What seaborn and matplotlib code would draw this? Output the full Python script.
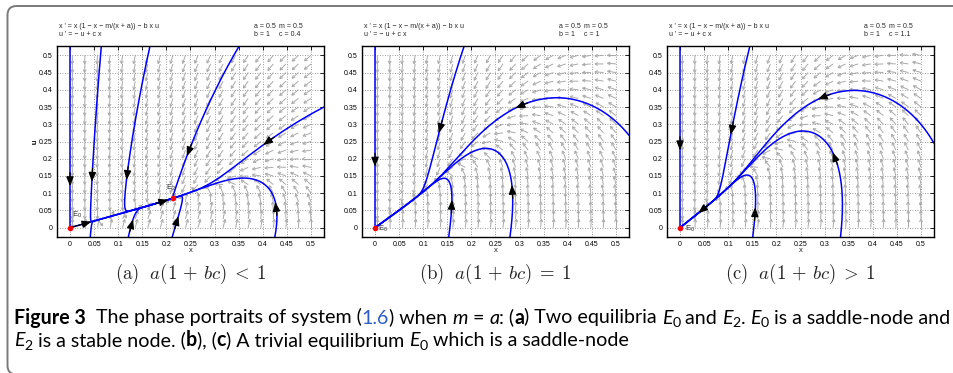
import math
import numpy as np
import pandas as pd
import matplotlib
matplotlib.use("Agg")
import matplotlib.pyplot as plt
import seaborn as sns
from matplotlib.collections import LineCollection
from matplotlib.patches import FancyBboxPatch
from matplotlib.transforms import IdentityTransform
from matplotlib.font_manager import FontProperties

# ---------------------------------------------------------------- model data
A_PAR = 0.5
M_PAR = 0.5
B_PAR = 1.0
C_VALUES = [0.4, 1.0, 1.1]

PANEL_TAGS = ["a", "b", "c"]
PANEL_RELATIONS = ["<", "=", ">"]

TICK_VALUES = [0.0, 0.05, 0.1, 0.15, 0.2, 0.25, 0.3, 0.35, 0.4, 0.45, 0.5]
TICK_LABELS = ["0", "0.05", "0.1", "0.15", "0.2", "0.25", "0.3", "0.35", "0.4", "0.45", "0.5"]

# initial points of the plotted orbits (x, u)
STARTS_A = [(0.0, 0.527), (0.065, 0.527), (0.042, -0.027), (0.166, 0.527), (0.121, -0.027),
            (0.212, -0.027), (0.351, 0.527), (0.527, 0.350), (0.425, -0.027), (0.0005, 0.0002)]
STARTS_B = [(0.0, 0.527), (0.185, 0.527), (0.527, 0.268), (0.280, -0.027), (0.153, -0.027)]
STARTS_C = [(0.0, 0.527), (0.145, 0.527), (0.527, 0.245), (0.333, -0.027), (0.151, -0.027)]

# equilibria and their labels (subscript, label x, label u)
EQUILIBRIA_A = [(0.0, 0.0), (0.2143, 0.0857)]
EQUILIBRIA_B = [(0.0, 0.0)]
EQUILIBRIA_C = [(0.0, 0.0)]
EQ_LABELS_A = [("0", 0.005, 0.022), ("2", 0.199, 0.101)]
EQ_LABELS_B = [("0", 0.007, -0.019)]
EQ_LABELS_C = [("0", 0.010, -0.018)]

# direction markers on orbits: (orbit index, tip x, tip u, shaft length in px)
ARROWS_A = [(0, 0.0, 0.120, 13), (1, 0.040, 0.133, 13), (3, 0.117, 0.138, 13),
            (4, 0.126, 0.027, 13), (5, 0.225, 0.034, 13), (8, 0.426, 0.075, 13),
            (6, 0.245, 0.206, 13), (7, 0.401, 0.240, 13), (9, 0.045, 0.016, 30),
            (9, 0.204, 0.080, 13)]
ARROWS_B = [(0, 0.0, 0.177, 13), (1, 0.133, 0.274, 13), (2, 0.290, 0.351, 13),
            (3, 0.281, 0.124, 13), (4, 0.160, 0.080, 13)]
ARROWS_C = [(0, 0.0, 0.225, 13), (1, 0.107, 0.269, 13), (2, 0.286, 0.373, 13),
            (3, 0.317, 0.220, 13), (4, 0.156, 0.059, 13), (2, 0.038, 0.042, 13)]

STARTS = [STARTS_A, STARTS_B, STARTS_C]
EQUILIBRIA = [EQUILIBRIA_A, EQUILIBRIA_B, EQUILIBRIA_C]
EQ_LABELS = [EQ_LABELS_A, EQ_LABELS_B, EQ_LABELS_C]
ARROWS = [ARROWS_A, ARROWS_B, ARROWS_C]

# ---------------------------------------------------------------- layout
W, H = 954, 373
LO, HI = -0.027, 0.527
AX_LEFT = [57, 362, 667]
AX_TOP, AX_W, AX_H = 46, 267, 191
SX = AX_W / (HI - LO)      # px per unit of x
SU = AX_H / (HI - LO)      # px per unit of u

sns.set_style("white")
plt.rcParams["font.family"] = ["Liberation Sans", "DejaVu Sans"]
plt.rcParams["mathtext.fontset"] = "custom"
plt.rcParams["mathtext.rm"] = "Liberation Sans"
plt.rcParams["mathtext.it"] = "Liberation Sans:italic"
plt.rcParams["mathtext.bf"] = "Liberation Sans:bold"


def field(x, u, c):
    fx = x * (1.0 - x - M_PAR / (x + A_PAR)) - B_PAR * x * u
    fu = -u + c * x
    return fx, fu


def trace(p0, c, eqs, max_px=0.5, nmax=40000, dt_cap=1000.0):
    """Integrate forward; u' = -u + c x is advanced exactly for frozen x."""
    x, u = p0
    pts = [(x, u)]
    armed = [False] * len(eqs)
    for _ in range(nmax):
        fx, fu = field(x, u, c)
        sp = math.hypot(fx * SX, fu * SU)
        dt = dt_cap if sp == 0.0 else min(max_px / sp, dt_cap)
        xh = x + 0.5 * dt * fx
        uh = c * x + (u - c * x) * math.exp(-0.5 * dt)
        fxh, _ = field(xh, uh, c)
        x_new = x + dt * fxh
        xm = 0.5 * (x + x_new)
        u = c * xm + (u - c * xm) * math.exp(-dt)
        x = x_new
        pts.append((x, u))
        if x < LO - 0.003 or x > HI + 0.003 or u < LO - 0.003 or u > HI + 0.003:
            break
        done = False
        for q, e in enumerate(eqs):
            d = math.hypot((x - e[0]) * SX, (u - e[1]) * SU)
            if d > 3.0:
                armed[q] = True
            elif armed[q] and d < 0.8:
                pts.append(e)
                done = True
                break
        if done:
            break
    return np.array(pts)


def field_segments(c):
    segs = []
    xs = np.linspace(0.005, 0.5, 20)
    us = np.linspace(0.0, 0.5, 21)
    L, hl, ang = 8.5, 3.2, math.radians(28)
    for x in xs:
        for u in us:
            fx, fu = field(x, u, c)
            vx, vu = fx * SX, fu * SU
            n = math.hypot(vx, vu)
            if n == 0.0:
                continue
            dx, dy = vx / n, vu / n
            tx, ty = x + L * dx / SX, u + L * dy / SU
            segs.append([(x, u), (tx, ty)])
            for s in (1, -1):
                ca, sa = math.cos(s * ang), math.sin(s * ang)
                bx, by = -dx * ca + dy * sa, -dx * sa - dy * ca
                segs.append([(tx, ty), (tx + hl * bx / SX, ty + hl * by / SU)])
    return segs


fig = plt.figure(figsize=(W / 100, H / 100), dpi=100)
fig.patch.set_facecolor("white")

for k in range(3):
    c = C_VALUES[k]
    left = AX_LEFT[k]
    ax = fig.add_axes([left / W, (H - AX_TOP - AX_H) / H, AX_W / W, AX_H / H])

    # direction field
    lc = LineCollection(field_segments(c), colors="#a9a9a9", linewidths=0.7, zorder=1)
    ax.add_collection(lc)

    # orbits
    rows = []
    orbits = []
    for j, p0 in enumerate(STARTS[k]):
        tr = trace(p0, c, EQUILIBRIA[k])
        orbits.append(tr)
        for n_, (px, pu) in enumerate(tr):
            rows.append((j, n_, px, pu))
    df = pd.DataFrame(rows, columns=["orbit", "step", "x", "u"])
    sns.lineplot(data=df, x="x", y="u", units="orbit", estimator=None, sort=False,
                 color="#0000ff", linewidth=1.1, legend=False, ax=ax, zorder=2)

    # direction markers on orbits
    for (j, ax_x, ax_u, shaft) in ARROWS[k]:
        tr = orbits[j]
        d = np.hypot((tr[:, 0] - ax_x) * SX, (tr[:, 1] - ax_u) * SU)
        i_tip = int(np.argmin(d))
        seg = np.hypot(np.diff(tr[:i_tip + 1, 0]) * SX, np.diff(tr[:i_tip + 1, 1]) * SU)
        back = np.cumsum(seg[::-1])
        i_tail = i_tip - int(np.searchsorted(back, shaft)) - 1
        i_tail = max(i_tail, 0)
        ax.annotate("", xy=tuple(tr[i_tip]), xytext=tuple(tr[i_tail]),
                    arrowprops=dict(arrowstyle="-|>,head_length=0.55,head_width=0.22",
                                    color="black", lw=0.9, shrinkA=0, shrinkB=0,
                                    mutation_scale=10),
                    zorder=4)

    # equilibria
    eq = pd.DataFrame(EQUILIBRIA[k], columns=["x", "u"])
    sns.scatterplot(data=eq, x="x", y="u", color="#ff0000", s=16, linewidth=0,
                    legend=False, ax=ax, zorder=5)
    for sub, lx, lu in EQ_LABELS[k]:
        ax.text(lx, lu, "E$_{\\mathrm{%s}}$" % sub, fontsize=5.6, ha="left", va="bottom",
                zorder=6)

    ax.set_xlim(LO, HI)
    ax.set_ylim(LO, HI)
    ax.set_xticks(TICK_VALUES)
    ax.set_xticklabels(TICK_LABELS)
    ax.set_yticks(TICK_VALUES)
    ax.set_yticklabels(TICK_LABELS)
    ax.tick_params(direction="in", length=3, width=0.6, top=True, right=True,
                   labelsize=5, pad=3, colors="black")
    ax.grid(True, linestyle=(0, (1, 2)), color="#7c7c7c", linewidth=0.6)
    ax.set_axisbelow(True)
    for sp in ax.spines.values():
        sp.set_color("black")
        sp.set_linewidth(1.0)
    ax.set_xlabel("x", fontsize=5.5)
    ax.set_ylabel("u", fontsize=5.5)
    ax.xaxis.set_label_coords(0.5, -(251 - (AX_TOP + AX_H)) / AX_H)
    ax.xaxis.label.set_va("center")
    ax.yaxis.set_label_coords(-(left - 35) / AX_W, 0.5)
    ax.yaxis.label.set_va("center")

    # equation header
    tr_px = IdentityTransform()
    fig.text(left + 2, H - 27, "x ' = x (1 \u2212 x \u2212 m/(x + a)) \u2212 b x u", fontsize=5,
             va="center", ha="left", transform=tr_px)
    fig.text(left + 2, H - 34.5, "u ' = \u2212 u + c x", fontsize=5, va="center", ha="left",
             transform=tr_px)
    fig.text(left + 197, H - 27, "a = %g" % A_PAR, fontsize=5, va="center", ha="left",
             transform=tr_px)
    fig.text(left + 222, H - 27, "m = %g" % M_PAR, fontsize=5, va="center", ha="left",
             transform=tr_px)
    fig.text(left + 197, H - 34.5, "b = %g" % B_PAR, fontsize=5, va="center", ha="left",
             transform=tr_px)
    fig.text(left + 222, H - 34.5, "c = %g" % c, fontsize=5, va="center", ha="left",
             transform=tr_px)

    # sub-caption
    fig.text(left + AX_W / 2, H - 279,
             r"$\mathrm{(%s)}\ \ a(1\,+\,bc)\;%s\;1$" % (PANEL_TAGS[k], PANEL_RELATIONS[k]),
             fontsize=13.5, math_fontfamily="cm", ha="center", va="baseline",
             transform=IdentityTransform())

# ---------------------------------------------------------------- caption
renderer = fig.canvas.get_renderer()
CAP_FAMILY = "Lato"
LINK_BLUE = "#2b5cc8"


def fprops(style, size):
    if style == "b":
        return FontProperties(family=CAP_FAMILY, weight="bold", size=size)
    if style == "i":
        return FontProperties(family=CAP_FAMILY, style="italic", size=size)
    if style == "s":
        return FontProperties(family=CAP_FAMILY, size=size * 0.72)
    return FontProperties(family=CAP_FAMILY, size=size)


def run_width(s, fp):
    t1 = fig.text(0, 0, "|" + s + "|", fontproperties=fp, transform=IdentityTransform())
    w1 = t1.get_window_extent(renderer).width
    t1.remove()
    t2 = fig.text(0, 0, "||", fontproperties=fp, transform=IdentityTransform())
    w2 = t2.get_window_extent(renderer).width
    t2.remove()
    return w1 - w2


LINE1 = [("Figure 3", "b"), ("  The phase portraits of system (", "n"), ("1.6", "l"),
         (") when ", "n"), ("m", "i"), (" = ", "n"), ("a", "i"), (": (", "n"), ("a", "b"),
         (") Two equilibria ", "n"), ("E", "i"), ("0", "s"), (" and ", "n"), ("E", "i"),
         ("2", "s"), (". ", "n"), ("E", "i"), ("0", "s"), (" is a saddle-node and", "n")]
LINE2 = [("E", "i"), ("2", "s"), (" is a stable node. (", "n"), ("b", "b"), ("), (", "n"),
         ("c", "b"), (") A trivial equilibrium ", "n"), ("E", "i"), ("0", "s"),
         (" which is a saddle-node", "n")]

base_size = 12.0
total = sum(run_width(s, fprops(st, base_size)) for s, st in LINE1)
cap_size = base_size * (946 - 14) / total


def draw_runs(runs, x0, baseline):
    x = x0
    for s, st in runs:
        fp = fprops(st, cap_size)
        y = H - baseline
        if st == "s":
            y -= cap_size * 100 / 72 * 0.2
        fig.text(x, y, s, fontproperties=fp, color=LINK_BLUE if st == "l" else "black",
                 ha="left", va="baseline", transform=IdentityTransform())
        x += run_width(s, fp)


draw_runs(LINE1, 14, 323.5)
draw_runs(LINE2, 14, 346.5)

# rounded frame around the figure block
frame = FancyBboxPatch((7.5, H - 374.5), 990, 374.5 - 6, boxstyle="round,pad=0,rounding_size=9",
                       transform=IdentityTransform(), fill=False, edgecolor="#7a7a7a",
                       linewidth=1.4)
fig.patches.append(frame)

fig.savefig("out.png", dpi=100, facecolor="white")
